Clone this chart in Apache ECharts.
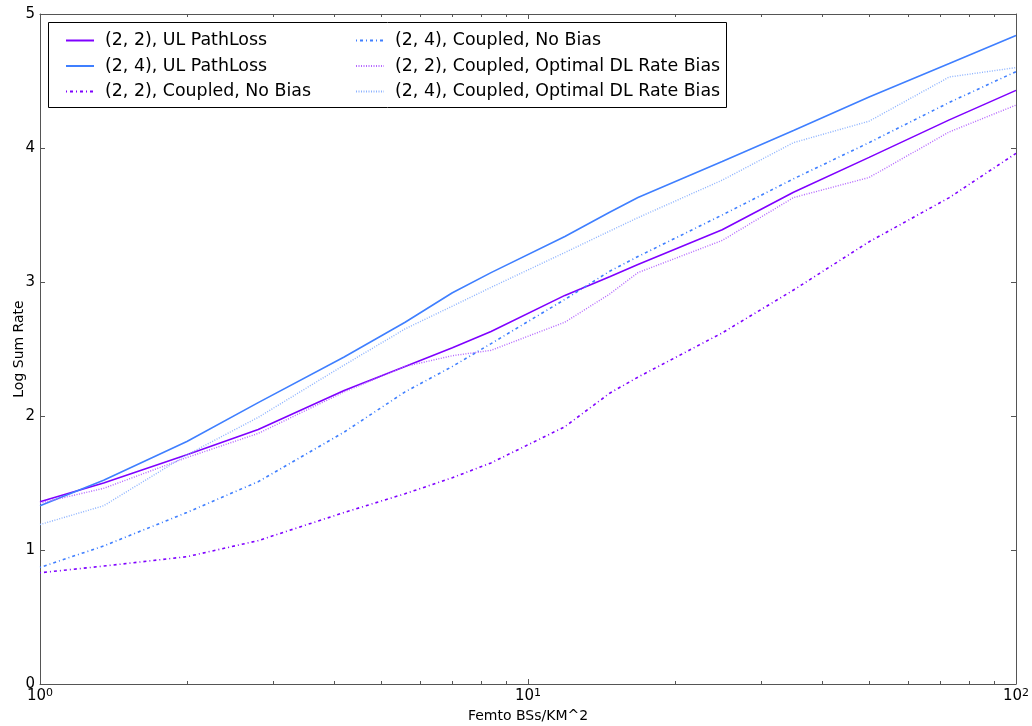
<!DOCTYPE html>
<html>
<head>
<meta charset="utf-8">
<script src="https://cdn.jsdelivr.net/npm/echarts@6/dist/echarts.min.js"></script>
<style>html,body{margin:0;padding:0;background:#fff}#c{width:1032px;height:726px}</style>
</head>
<body>
<div id="c"></div>
<script>
const xs = [1, 1.35, 2, 2.8, 4.2, 5.6, 7, 8.4, 11.9, 14.7, 16.8, 25, 35, 50, 73, 100];
const ul22 = [1.36, 1.50, 1.71, 1.90, 2.19, 2.37, 2.51, 2.63, 2.90, 3.04, 3.13, 3.39, 3.67, 3.93, 4.21, 4.43];
const ul24 = [1.33, 1.52, 1.81, 2.10, 2.44, 2.70, 2.92, 3.07, 3.34, 3.52, 3.63, 3.90, 4.13, 4.38, 4.63, 4.84];
const nb22 = [0.83, 0.88, 0.95, 1.07, 1.28, 1.42, 1.54, 1.65, 1.92, 2.17, 2.29, 2.62, 2.94, 3.30, 3.63, 3.96];
const nb24 = [0.87, 1.03, 1.28, 1.51, 1.88, 2.18, 2.37, 2.54, 2.87, 3.08, 3.19, 3.50, 3.77, 4.04, 4.34, 4.57];
const opt22 = [1.35, 1.46, 1.69, 1.87, 2.18, 2.37, 2.45, 2.49, 2.70, 2.91, 3.07, 3.31, 3.63, 3.78, 4.12, 4.32];
const opt24 = [1.19, 1.33, 1.71, 1.99, 2.38, 2.65, 2.82, 2.96, 3.22, 3.38, 3.48, 3.76, 4.04, 4.20, 4.53, 4.60];
const names = [
  '(2, 2), UL PathLoss',
  '(2, 4), UL PathLoss',
  '(2, 2), Coupled, No Bias',
  '(2, 4), Coupled, No Bias',
  '(2, 2), Coupled, Optimal DL Rate Bias',
  '(2, 4), Coupled, Optimal DL Rate Bias'
];
const minorXs = [2, 3, 4, 5, 6, 7, 8, 9, 20, 30, 40, 50, 60, 70, 80, 90];
const yTicks = [0, 1, 2, 3, 4, 5];

const PURPLE = '#7f00ff', BLUE = '#3f7fff';
const LPURPLE = '#b466ff', LBLUE = '#8cb2ff';
const FONT = 'DejaVu Sans';

function pts(vals) { return xs.map((x, i) => [x, vals[i]]); }
function line(name, vals, color, type, width) {
  return {
    name, type: 'line', data: pts(vals), showSymbol: false, symbol: 'none',
    lineStyle: { color, type, width }, itemStyle: { color }, animation: false, z: 3
  };
}

const chart = echarts.init(document.getElementById('c'));
const axisCommon = {
  axisLine: { show: true, onZero: false, lineStyle: { color: '#555', width: 1 } },
  splitLine: { show: false }
};
const legendCommon = {
  orient: 'vertical', top: 26, itemWidth: 28, itemHeight: 19, itemGap: 6.5,
  itemStyle: { opacity: 0 },
  textStyle: { fontFamily: FONT, fontSize: 17.4, color: '#000', lineHeight: 19, padding: [0, 0, 0, 6] },
  selectedMode: false
};
chart.setOption({
  backgroundColor: '#fff',
  animation: false,
  grid: { left: 40, right: 16, top: 14, bottom: 42, containLabel: false, outerBoundsMode: 'none' },
  xAxis: [{
    ...axisCommon,
    type: 'log', logBase: 10, min: 1, max: 100,
    name: 'Femto BSs/KM^2', nameLocation: 'middle', nameGap: 25,
    nameTextStyle: { fontFamily: FONT, fontSize: 14, color: '#000' },
    axisTick: { show: true, inside: true, length: 5, lineStyle: { color: '#555' } },
    axisLabel: {
      margin: 4, color: '#000', fontFamily: FONT, fontSize: 15,
      formatter: v => '{b|10}{s|' + Math.round(Math.log10(v)) + '}',
      rich: {
        b: { fontFamily: FONT, fontSize: 15, color: '#000' },
        s: { fontFamily: FONT, fontSize: 11, color: '#000', verticalAlign: 'top', padding: [0, 0, 6, 0] }
      }
    }
  }, {
    ...axisCommon, type: 'log', logBase: 10, min: 1, max: 100, position: 'top',
    axisTick: { show: true, inside: true, length: 5, lineStyle: { color: '#555' } },
    axisLabel: { show: false }
  }],
  yAxis: [{
    ...axisCommon,
    type: 'value', min: 0, max: 5, interval: 1,
    name: 'Log Sum Rate', nameLocation: 'middle', nameGap: 14, nameRotate: 90,
    nameMoveOverlap: false,
    nameTextStyle: { fontFamily: FONT, fontSize: 14, color: '#000' },
    axisTick: { show: true, inside: true, length: 5, lineStyle: { color: '#555' } },
    axisLabel: { margin: 5, color: '#000', fontFamily: FONT, fontSize: 15,
      formatter: v => yTicks.includes(v) ? String(v) : '' }
  }, {
    ...axisCommon, type: 'value', min: 0, max: 5, interval: 1, position: 'right',
    axisTick: { show: true, inside: true, length: 5, lineStyle: { color: '#555' } },
    axisLabel: { show: false }
  }],
  legend: [
    { ...legendCommon, data: names.slice(0, 3), left: 60 },
    { ...legendCommon, data: names.slice(3), left: 350 }
  ],
  graphic: [{
    type: 'rect', left: 48, top: 22, z: 1,
    shape: { width: 678, height: 85 },
    style: { fill: '#fff', stroke: '#000', lineWidth: 1 }
  }],
  series: [
    line(names[0], ul22, PURPLE, 'solid', 1.6),
    line(names[1], ul24, BLUE, 'solid', 1.6),
    line(names[2], nb22, PURPLE, [1, 3, 3, 3], 1.6),
    line(names[3], nb24, BLUE, [1, 3, 3, 3], 1.6),
    line(names[4], opt22, LPURPLE, [1, 1.5], 1.4),
    line(names[5], opt24, LBLUE, [1, 1.5], 1.4),
    {
      type: 'custom', name: 'minor', silent: true, clip: false, z: 4,
      data: minorXs.map(x => [x, 0]),
      renderItem: function (params, api) {
        const x = api.value(0);
        const b = api.coord([x, 0]);
        const t = api.coord([x, 5]);
        const st = { stroke: '#555', lineWidth: 1 };
        return { type: 'group', children: [
          { type: 'line', shape: { x1: Math.round(b[0]) + 0.5, y1: b[1], x2: Math.round(b[0]) + 0.5, y2: b[1] - 3 }, style: st },
          { type: 'line', shape: { x1: Math.round(t[0]) + 0.5, y1: t[1], x2: Math.round(t[0]) + 0.5, y2: t[1] + 3 }, style: st }
        ]};
      }
    }
  ]
});
</script>
</body>
</html>
